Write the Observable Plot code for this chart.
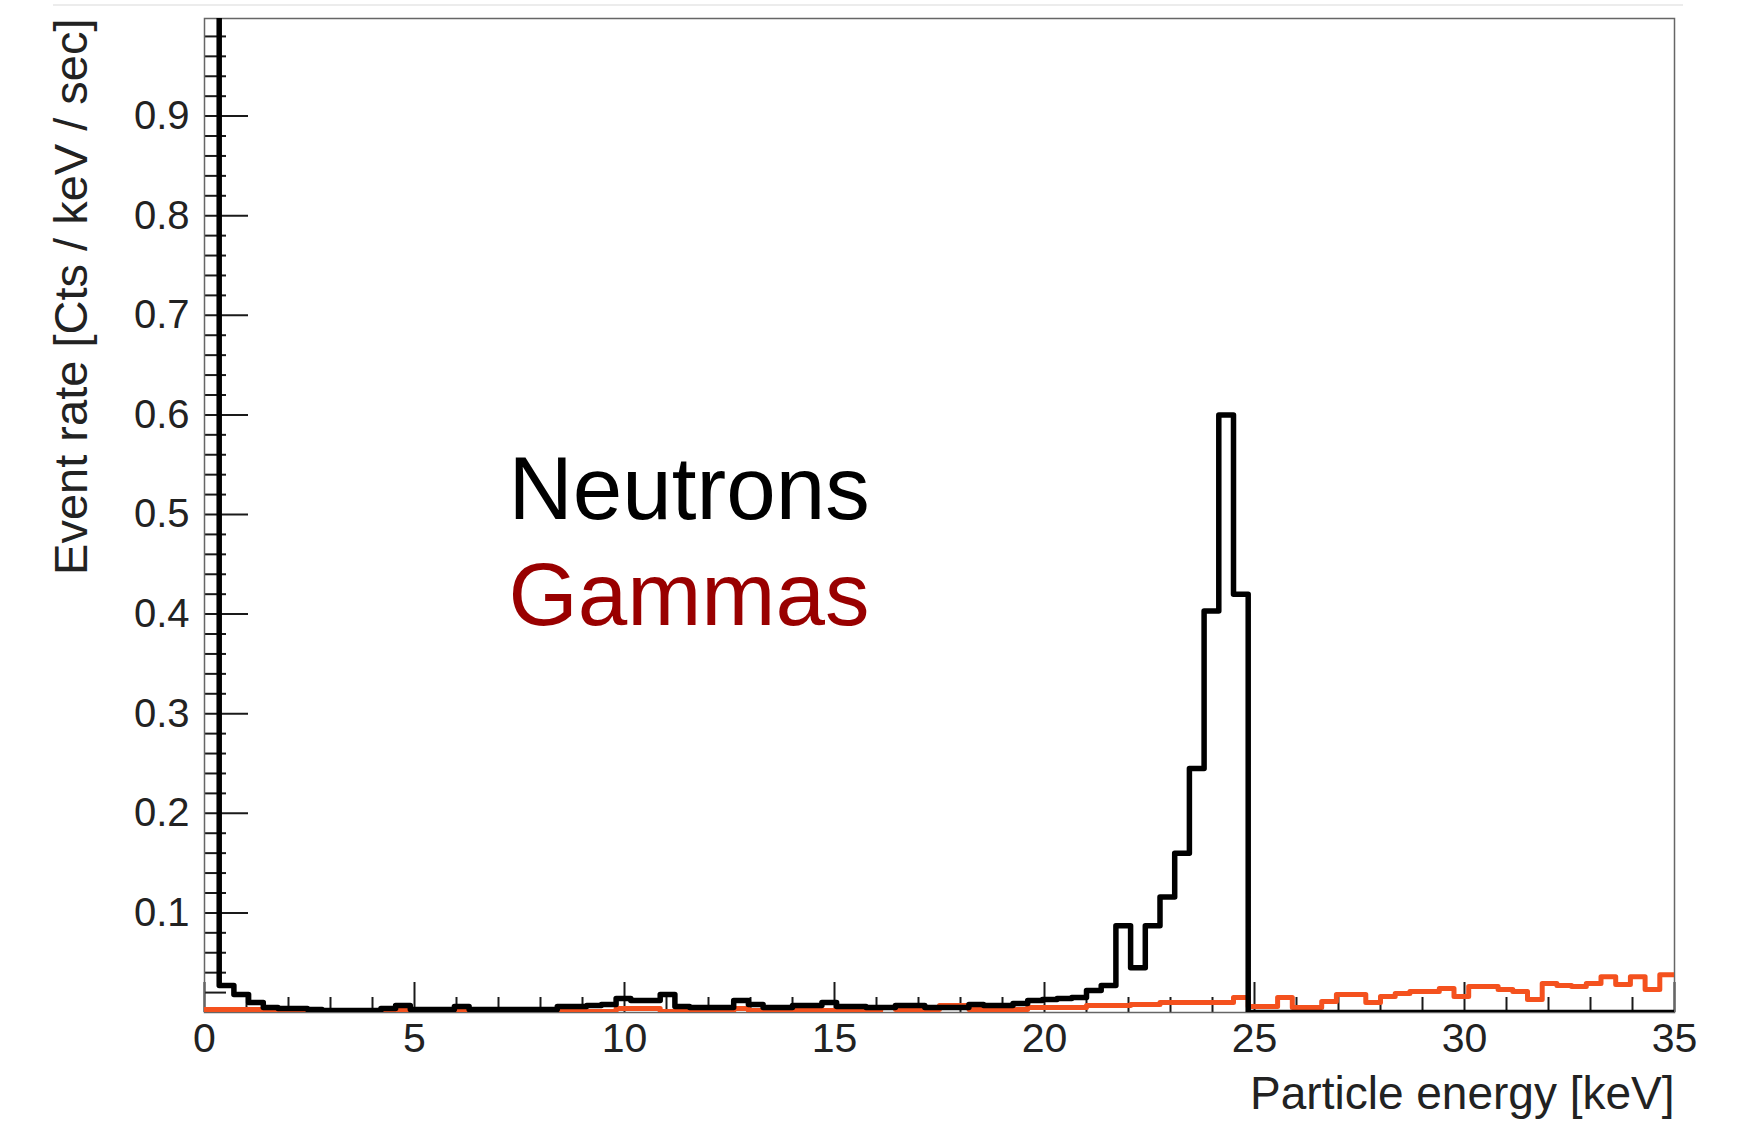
<!DOCTYPE html>
<html>
<head>
<meta charset="utf-8">
<script src="https://cdn.jsdelivr.net/npm/d3@7"></script>
<script src="https://cdn.jsdelivr.net/npm/@observablehq/plot@0.6"></script>
<style>
  html, body { margin: 0; padding: 0; background: #fff; }
  #page { position: relative; width: 1747px; height: 1121px; overflow: hidden; }
  #rule { position: absolute; left: 53px; top: 4px; width: 1630px; height: 2px; background: #ececec; }
  #chart svg { display: block; }
</style>
</head>
<body>
<div id="page">
  <div id="rule"></div>
  <div id="chart"></div>
</div>
<script>
// Histogram binning: 100 bins of 0.35 keV between 0 and 35 keV
const binWidth = 0.35;
const binCount = 100;

// Neutron event rate per bin [Cts / keV / sec]; the first bin runs far off scale
const neutrons = [
  1.8, 0.027, 0.018, 0.010, 0.005, 0.004, 0.004, 0.003, 0.002, 0.002,
  0.002, 0.002, 0.004, 0.007, 0.003, 0.003, 0.003, 0.006, 0.003, 0.003,
  0.003, 0.003, 0.003, 0.003, 0.006, 0.006, 0.007, 0.008, 0.014, 0.012,
  0.012, 0.018, 0.006, 0.005, 0.005, 0.005, 0.012, 0.008, 0.005, 0.005,
  0.007, 0.007, 0.010, 0.006, 0.006, 0.005, 0.005, 0.007, 0.007, 0.005,
  0.005, 0.005, 0.008, 0.007, 0.007, 0.009, 0.012, 0.013, 0.014, 0.015,
  0.022, 0.027, 0.087, 0.045, 0.087, 0.116, 0.160, 0.245, 0.403, 0.600,
  0.420, 0, 0, 0, 0, 0, 0, 0, 0, 0,
  0, 0, 0, 0, 0, 0, 0, 0, 0, 0,
  0, 0, 0, 0, 0, 0, 0, 0, 0, 0
];

// Gamma event rate per bin [Cts / keV / sec]
const gammas = [
  0.003, 0.003, 0.003, 0.003, 0.002, 0.001, 0.001, 0.001, 0.002, 0.001,
  0.001, 0.001, 0.001, 0.002, 0.001, 0.001, 0.001, 0.001, 0.002, 0.001,
  0.001, 0.001, 0.001, 0.001, 0.002, 0.001, 0.001, 0.001, 0.004, 0.004,
  0.004, 0.001, 0.001, 0.001, 0.001, 0.001, 0.004, 0.002, 0.002, 0.002,
  0.002, 0.002, 0.002, 0.002, 0.002, 0.002, 0.005, 0.003, 0.003, 0.003,
  0.007, 0.007, 0.003, 0.003, 0.003, 0.003, 0.005, 0.005, 0.005, 0.005,
  0.007, 0.007, 0.007, 0.008, 0.008, 0.010, 0.010, 0.010, 0.010, 0.010,
  0.015, 0.006, 0.006, 0.015, 0.005, 0.005, 0.011, 0.018, 0.018, 0.010,
  0.016, 0.019, 0.021, 0.021, 0.024, 0.016, 0.026, 0.026, 0.023, 0.021,
  0.013, 0.029, 0.027, 0.026, 0.029, 0.036, 0.028, 0.036, 0.023, 0.038
];

// Axis ticks
const xMajorTicks = [0, 5, 10, 15, 20, 25, 30, 35];
const xMinorTicks = [1, 2, 3, 4, 6, 7, 8, 9, 11, 12, 13, 14, 16, 17, 18, 19, 21, 22, 23, 24, 26, 27, 28, 29, 31, 32, 33, 34];
const yMajorTicks = [0.1, 0.2, 0.3, 0.4, 0.5, 0.6, 0.7, 0.8, 0.9];
const yMinorTicks = [
  0.02, 0.04, 0.06, 0.08, 0.12, 0.14, 0.16, 0.18, 0.22, 0.24, 0.26, 0.28,
  0.32, 0.34, 0.36, 0.38, 0.42, 0.44, 0.46, 0.48, 0.52, 0.54, 0.56, 0.58,
  0.62, 0.64, 0.66, 0.68, 0.72, 0.74, 0.76, 0.78, 0.82, 0.84, 0.86, 0.88,
  0.92, 0.94, 0.96, 0.98
];

// Text
const xTitle = "Particle energy [keV]";
const yTitle = "Event rate [Cts / keV / sec]";
const seriesNames = ["Neutrons", "Gammas"];

// Turn per-bin values into the outline of a histogram
function outline(values) {
  return values.flatMap((v, i) => [
    {energy: i * binWidth, rate: v},
    {energy: (i + 1) * binWidth, rate: v}
  ]);
}

const font = "'Liberation Sans', Arial, Helvetica, sans-serif";
const tickColor = "#1a1a1a";

const chart = Plot.plot({
  width: 1747,
  height: 1121,
  marginLeft: 204,
  marginRight: 73,
  marginTop: 18,
  marginBottom: 109,
  style: {fontFamily: font, background: "#fff", color: "#222"},
  x: {domain: [0, binCount * binWidth], axis: null},
  y: {domain: [0, 0.998], axis: null},
  marks: [
    // y axis: inward ticks and labels
    Plot.axisY({ticks: yMinorTicks, tickSize: -22, tickFormat: () => "", stroke: tickColor, strokeWidth: 2, label: null}),
    Plot.axisY({ticks: yMajorTicks, tickSize: -44, tickFormat: () => "", stroke: tickColor, strokeWidth: 2, label: null}),
    Plot.axisY({ticks: yMajorTicks, tickSize: 0, tickPadding: 15, fontSize: 40, fill: "#222", label: null}),
    // x axis: inward ticks and labels
    Plot.axisX({ticks: xMinorTicks, tickSize: -15, tickFormat: () => "", stroke: tickColor, strokeWidth: 2, label: null}),
    Plot.axisX({ticks: xMajorTicks, tickSize: -30, tickFormat: () => "", stroke: tickColor, strokeWidth: 2, label: null}),
    Plot.axisX({ticks: xMajorTicks, tickSize: 0, tickPadding: 10, fontSize: 41, fill: "#222", label: null}),
    Plot.frame({stroke: "#666", strokeWidth: 1.5}),
    // histograms
    Plot.line(outline(gammas), {x: "energy", y: "rate", stroke: "#f4511e", strokeWidth: 5, clip: true}),
    Plot.line(outline(neutrons), {x: "energy", y: "rate", stroke: "#000", strokeWidth: 5.5, clip: true}),
    // legend text
    Plot.text([seriesNames[0]], {frameAnchor: "top-left", text: d => d, dx: 304, dy: 500, lineAnchor: "bottom", textAnchor: "start", fontSize: 89, fill: "#000"}),
    Plot.text([seriesNames[1]], {frameAnchor: "top-left", text: d => d, dx: 304, dy: 606, lineAnchor: "bottom", textAnchor: "start", fontSize: 89, fill: "#990000"}),
    // axis titles
    Plot.text([xTitle], {frameAnchor: "bottom-right", text: d => d, dy: 96, lineAnchor: "bottom", textAnchor: "end", fontSize: 46, fill: "#222"}),
    Plot.text([yTitle], {frameAnchor: "top-left", text: d => d, dx: -133, rotate: -90, textAnchor: "end", lineAnchor: "middle", fontSize: 47, fill: "#222"})
  ]
});

document.getElementById("chart").appendChild(chart);
</script>
</body>
</html>
